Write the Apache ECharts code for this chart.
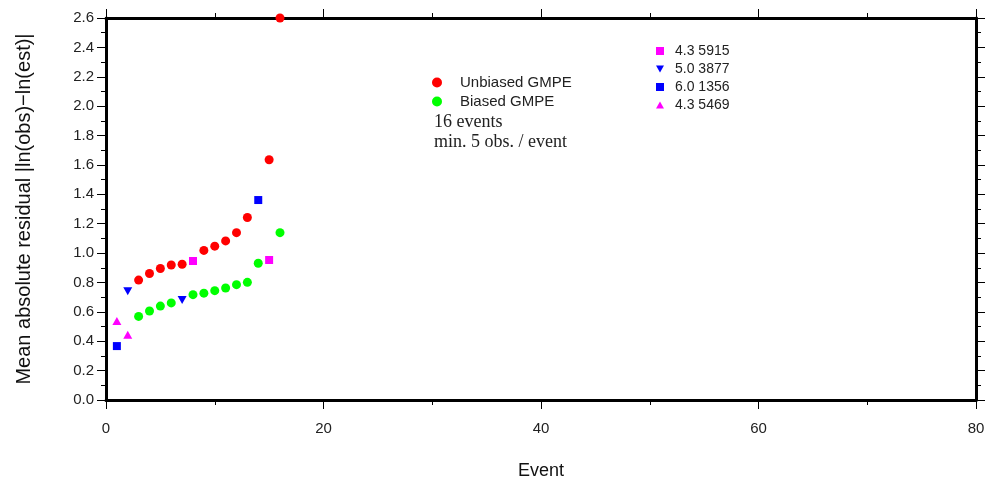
<!DOCTYPE html>
<html>
<head>
<meta charset="utf-8">
<script src="https://cdn.jsdelivr.net/npm/echarts@6/dist/echarts.min.js"></script>
<style>html,body{margin:0;padding:0;background:#fff}#c{width:988px;height:485px}</style>
</head>
<body>
<div id="c"></div>
<script>
// ---- data ----
const eventRank = [1, 2, 3, 4, 5, 6, 7, 8, 9, 10, 11, 12, 13, 14, 15, 16];
const unbiased = [0.538, 0.740, 0.816, 0.861, 0.895, 0.919, 0.924, 0.946, 1.018, 1.047, 1.083, 1.139, 1.242, 1.361, 1.635, 2.6];
const biased = [0.367, 0.444, 0.569, 0.606, 0.639, 0.661, 0.680, 0.717, 0.727, 0.744, 0.762, 0.785, 0.801, 0.931, 0.953, 1.139];
const highlightNames = ['4.3 5915', '5.0 3877', '6.0 1356', '4.3 5469'];
const highlightRankUnbiased = [8, 2, 14, 1];
const highlightRankBiased = [15, 7, 1, 2];
const xTicks = [0, 20, 40, 60, 80];
const yTicks = [0.0, 0.2, 0.4, 0.6, 0.8, 1.0, 1.2, 1.4, 1.6, 1.8, 2.0, 2.2, 2.4, 2.6];
const noteLines = ['16 events', 'min. 5 obs. / event'];

// ---- styles ----
const highlightStyles = [
  {symbol: 'rect', color: '#ff00ff', size: 8},
  {symbol: 'path://M0,0L10,0L5,9Z', color: '#0000ff', size: [9, 8]},
  {symbol: 'rect', color: '#0000ff', size: 8},
  {symbol: 'path://M5,0L10,9L0,9Z', color: '#ff00ff', size: [9, 8]}
];

const hlU = new Set(highlightRankUnbiased);
const hlB = new Set(highlightRankBiased);
const unbiasedPts = eventRank.filter(r => !hlU.has(r)).map(r => [r, unbiased[r - 1]]);
const biasedPts = eventRank.filter(r => !hlB.has(r)).map(r => [r, biased[r - 1]]);

const series = [
  {name: 'Unbiased GMPE', type: 'scatter', data: unbiasedPts, symbol: 'circle', symbolSize: 9,
   itemStyle: {color: '#ff0000', opacity: 1}, clip: false},
  {name: 'Biased GMPE', type: 'scatter', data: biasedPts, symbol: 'circle', symbolSize: 9,
   itemStyle: {color: '#00ff00', opacity: 1}, clip: false}
];
highlightNames.forEach((n, i) => {
  const s = highlightStyles[i];
  series.push({
    name: n, type: 'scatter', symbol: s.symbol, symbolSize: s.size,
    itemStyle: {color: s.color, opacity: 1}, clip: false,
    data: [[highlightRankUnbiased[i], unbiased[highlightRankUnbiased[i] - 1]],
           [highlightRankBiased[i], biased[highlightRankBiased[i] - 1]]]
  });
});

const FONT = '"Liberation Sans", Arial, Helvetica, sans-serif';
const frameLine = {show: true, onZero: false, lineStyle: {color: '#000', width: 3}};

function xAxisCfg(pos, labels) {
  return {
    type: 'value', position: pos, min: xTicks[0], max: xTicks[xTicks.length - 1], interval: 20,
    axisLine: frameLine,
    axisTick: {show: true, length: 9, lineStyle: {color: '#000', width: 1}},
    minorTick: {show: true, splitNumber: 2, length: 5, lineStyle: {color: '#000', width: 1}},
    splitLine: {show: false}, minorSplitLine: {show: false},
    axisLabel: {show: labels, margin: 21, fontSize: 15, color: '#222', fontFamily: FONT},
    name: labels ? 'Event' : '', nameLocation: 'middle', nameGap: 62,
    nameTextStyle: {fontSize: 18, color: '#111', fontFamily: FONT}
  };
}
function yAxisCfg(pos, labels) {
  return {
    type: 'value', position: pos, min: yTicks[0], max: yTicks[yTicks.length - 1], interval: 0.2,
    axisLine: frameLine,
    axisTick: {show: true, length: 9, lineStyle: {color: '#000', width: 1}},
    minorTick: {show: true, splitNumber: 2, length: 5, lineStyle: {color: '#000', width: 1}},
    splitLine: {show: false}, minorSplitLine: {show: false},
    axisLabel: {show: labels, margin: 12, fontSize: 15, color: '#222', fontFamily: FONT,
                formatter: v => v.toFixed(1)},
    name: labels ? 'Mean absolute residual |ln(obs)\u2212ln(est)|' : '', nameLocation: 'middle', nameGap: 72,
    nameRotate: 90,
    nameTextStyle: {fontSize: 20, color: '#111', fontFamily: FONT}
  };
}

const chart = echarts.init(document.getElementById('c'), null, {renderer: 'canvas'});
chart.setOption({
  animation: false,
  backgroundColor: '#fff',
  grid: {left: 106, right: 12, top: 18, bottom: 81, containLabel: false},
  xAxis: [xAxisCfg('bottom', true), xAxisCfg('top', false)],
  yAxis: [yAxisCfg('left', true), yAxisCfg('right', false)],
  legend: [
    {
      orient: 'vertical', left: 427, top: 70, itemWidth: 10, itemHeight: 10, itemGap: 4,
      selectedMode: false,
      data: [{name: 'Unbiased GMPE', icon: 'circle'}, {name: 'Biased GMPE', icon: 'circle'}],
      textStyle: {fontSize: 15, color: '#222', fontFamily: FONT, padding: [0, 0, 0, 13]}
    },
    {
      orient: 'vertical', left: 651, top: 39, itemWidth: 8, itemHeight: 8, itemGap: 4,
      selectedMode: false,
      data: highlightNames.map((n, i) => ({name: n, icon: highlightStyles[i].symbol})),
      textStyle: {fontSize: 14, color: '#222', fontFamily: FONT, padding: [0, 0, 0, 6]}
    }
  ],
  graphic: noteLines.map((t, i) => ({
    type: 'text', left: 434, top: 113 + i * 20,
    style: {text: t, font: '18px "Liberation Serif", "Times New Roman", serif', fill: '#222'}
  })),
  series: series
});
</script>
</body>
</html>
